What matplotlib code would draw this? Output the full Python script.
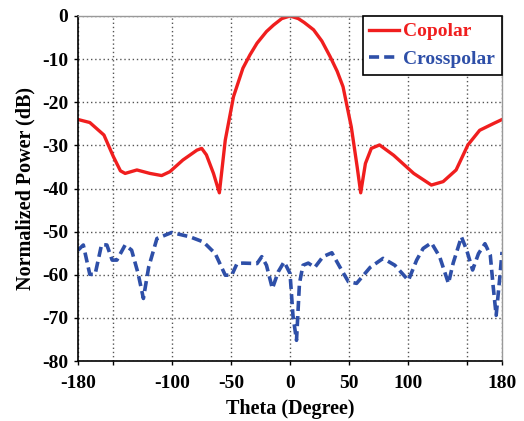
import numpy as np
import matplotlib.pyplot as plt

# Copolar pattern
co_theta = [-180, -170, -158, -150, -144, -140, -130, -119, -109, -102, -91, -79, -75,
            -71, -65, -60, -55, -48, -40, -34, -28, -20, -14, -7, 0, 7, 12, 20, 27,
            34, 40, 45, 52, 57, 60, 64, 69, 76, 88, 105, 120, 130, 141, 151, 161,
            173, 180]
co_db = [-24, -24.7, -27.6, -32.6, -35.9, -36.5, -35.7, -36.5, -37.0, -36.1, -33.4,
         -31.1, -30.7, -32.2, -36.5, -41.0, -28.8, -18.7, -12.1, -9.0, -6.3, -3.6,
         -2.1, -0.6, 0, -0.6, -1.5, -3.2, -5.8, -9.4, -12.8, -16.4, -25.7, -35,
         -41, -34.2, -30.7, -29.9, -32.3, -36.5, -39.2, -38.4, -35.7, -29.9, -26.5,
         -24.9, -24]

# Crosspolar pattern
x_theta = [-180, -175.5, -170, -165.5, -160, -155.5, -151, -147, -140, -134.5, -129,
           -124.5, -120, -113, -100.5, -85, -73.5, -63.5, -55, -49.5, -45, -40, -28,
           -24, -20, -15, -10, -5, 0, 2.5, 5.5, 8, 11, 15.5, 21, 28, 35.5, 42.5,
           49.5, 56.5, 68, 79, 89, 100.5, 107.5, 113, 120, 127, 134.5, 138.5,
           145.5, 150, 155, 160, 165.5, 170, 172.5, 175, 178, 180]
x_db = [-54.3, -53.1, -59.9, -59.9, -53.0, -53.1, -56.6, -56.6, -53.1, -54.3, -59.7,
        -65.5, -58.2, -51.6, -50.2, -51.2, -52.4, -55.1, -60.1, -60.1, -57.4, -57.3,
        -57.4, -55.8, -57.8, -63.2, -59.3, -57.0, -59.7, -69.5, -75.2, -62.0, -57.8,
        -57.3, -58.3, -55.8, -54.9, -58.3, -61.6, -62.0, -58.3, -56.2, -57.8, -61.3,
        -56.6, -53.9, -52.6, -55.8, -62.0, -57.3, -51.2, -54.3, -58.9, -55.1, -52.8,
        -55.4, -62.8, -69.4, -60.9, -54.7]

xticks = [-180, -150, -100, -50, 0, 50, 100, 150, 180]
xtick_labels = ['-180', '', '-100', '-50', '0', '50', '100', '', '180']
yticks = [0, -10, -20, -30, -40, -50, -60, -70, -80]

plt.rcParams['font.family'] = ['Liberation Serif', 'DejaVu Serif']
plt.rcParams['font.weight'] = 'bold'
plt.rcParams['axes.unicode_minus'] = False

fig = plt.figure(figsize=(5.24, 4.21), dpi=100)
ax = fig.add_axes([0.1489, 0.1425, 0.8092, 0.8195])

ax.plot(co_theta, co_db, color='#f01e1e', lw=2.4, label='Copolar')
ax.plot(x_theta, x_db, color='#2e4fa8', lw=2.6, ls=(0, (2.8, 1.4)), label='Crosspolar')

ax.set_xlim(-180, 180)
ax.set_ylim(-80, 0)
ax.set_xticks(xticks)
ax.set_xticklabels(xtick_labels)
ax.set_yticks(yticks)
ax.tick_params(labelsize=14, length=3, width=1, direction='out')
ax.tick_params(axis='x', pad=7)
ax.tick_params(axis='y', pad=4)
for lab in ax.get_xticklabels() + ax.get_yticklabels():
    lab.set_fontweight('bold')

ax.grid(True, ls=(0, (1, 2)), color='#555555', lw=1)
for s in ['left', 'bottom']:
    ax.spines[s].set_color('black')
    ax.spines[s].set_linewidth(1.2)
for s in ['top', 'right']:
    ax.spines[s].set_color('#999999')
    ax.spines[s].set_linewidth(1)

ax.set_xlabel('Theta (Degree)', fontsize=14.5, fontweight='bold', labelpad=5)
ax.set_ylabel('Normalized Power (dB)', fontsize=14.5, fontweight='bold', labelpad=5)

leg = ax.legend(loc='upper right', frameon=True, fancybox=False,
                handlelength=1.5, handletextpad=0.25, borderpad=0.35,
                labelspacing=0.5, borderaxespad=0.0, prop={'weight': 'bold', 'size': 14})
leg.get_frame().set_edgecolor('black')
leg.get_frame().set_linewidth(1.2)
leg.get_frame().set_alpha(1)
for txt, col in zip(leg.get_texts(), ['#f01e1e', '#2e4fa8']):
    txt.set_color(col)

fig.savefig('out.png', dpi=100)
